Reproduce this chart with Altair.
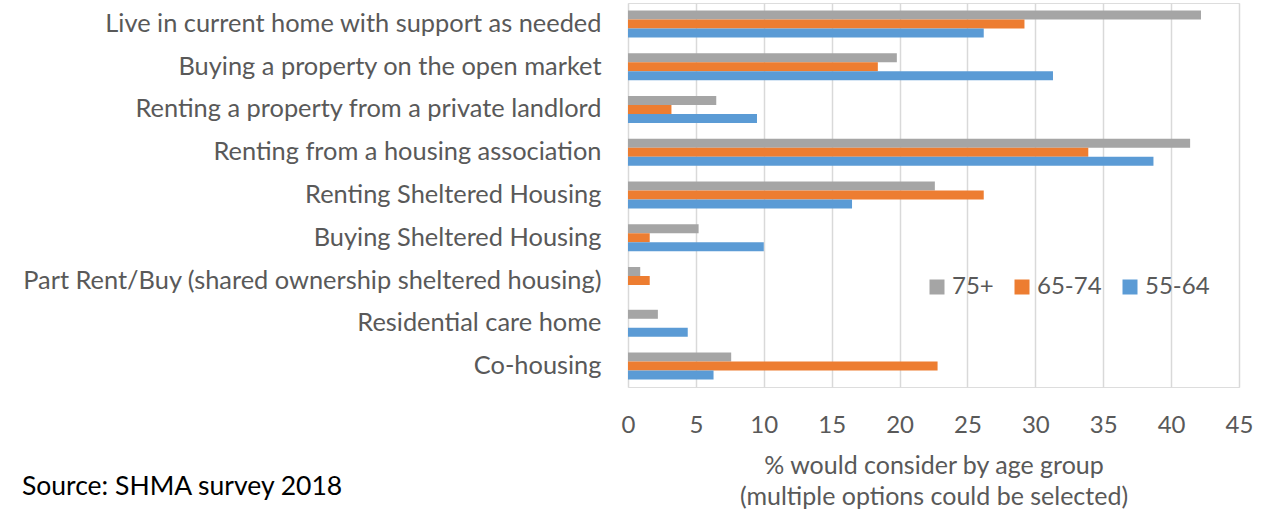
import altair as alt
import pandas as pd

categories = [
    "Live in current home with support as needed",
    "Buying a property on the open market",
    "Renting a property from a private landlord",
    "Renting from a housing association",
    "Renting Sheltered Housing",
    "Buying Sheltered Housing",
    "Part Rent/Buy (shared ownership sheltered housing)",
    "Residential care home",
    "Co-housing",
]
groups = ["75+", "65-74", "55-64"]
colors = ["#A5A5A5", "#ED7D31", "#5B9BD5"]

age_75_plus = [42.2, 19.8, 6.5, 41.4, 22.6, 5.2, 0.9, 2.2, 7.6]
age_65_74 = [29.2, 18.4, 3.2, 33.9, 26.2, 1.6, 1.6, 0.0, 22.8]
age_55_64 = [26.2, 31.3, 9.5, 38.7, 16.5, 10.0, 0.0, 4.4, 6.3]

series = {"75+": age_75_plus, "65-74": age_65_74, "55-64": age_55_64}
rows = [
    {"option": c, "group": g, "pct": vals[i]}
    for g, vals in series.items()
    for i, c in enumerate(categories)
]
df = pd.DataFrame(rows)

FONT = "Lato"
TEXT = "#595959"

bars = (
    alt.Chart(df)
    .mark_bar(size=9)
    .encode(
        x=alt.X(
            "pct:Q",
            scale=alt.Scale(domain=[0, 45], nice=False),
            axis=alt.Axis(
                values=list(range(0, 50, 5)),
                title=["% would consider by age group", "(multiple options could be selected)"],
                titleFont=FONT,
                titleFontSize=25,
                titleFontWeight="normal",
                titleColor=TEXT,
                titlePadding=16,
                titleLineHeight=31,
                labelFont=FONT,
                labelFontSize=24,
                labelColor=TEXT,
                labelPadding=26,
                labelFlush=False,
                grid=True,
                gridColor="#D9D9D9",
                gridWidth=1.5,
                domain=False,
                ticks=False,
            ),
        ),
        y=alt.Y(
            "option:N",
            sort=categories,
            scale=alt.Scale(paddingInner=0.368, paddingOuter=0.174),
            axis=alt.Axis(
                title=None,
                labelFont=FONT,
                labelFontSize=25.4,
                labelColor=TEXT,
                labelPadding=27,
                labelLimit=700,
                domain=False,
                ticks=False,
            ),
        ),
        yOffset=alt.YOffset("group:N", sort=groups, scale=alt.Scale(paddingInner=0, paddingOuter=0)),
        color=alt.Color(
            "group:N",
            sort=groups,
            scale=alt.Scale(domain=groups, range=colors),
            legend=alt.Legend(
                title=None,
                orient="none",
                legendX=297,
                legendY=272,
                direction="horizontal",
                symbolType="square",
                symbolSize=225,
                symbolStrokeWidth=0,
                labelFont=FONT,
                labelFontSize=24,
                labelColor=TEXT,
                labelOffset=3,
                columnPadding=16,
            ),
        ),
    )
)

source = (
    alt.Chart(pd.DataFrame({"note": ["Source: SHMA survey 2018"]}))
    .mark_text(align="left", baseline="middle", font=FONT, fontSize=26.5, color="#000000")
    .encode(text="note:N", x=alt.value(-606), y=alt.value(484))
)

chart = (
    alt.layer(bars, source)
    .properties(
        width=611,
        height=384,
        autosize=alt.AutoSizeParams(type="none"),
        padding={"left": 628, "top": 3, "right": 26, "bottom": 125},
    )
    .configure_view(stroke=None)
    .configure(background="white")
)

chart.save("out.html", embed_options={"renderer": "svg", "actions": False})
